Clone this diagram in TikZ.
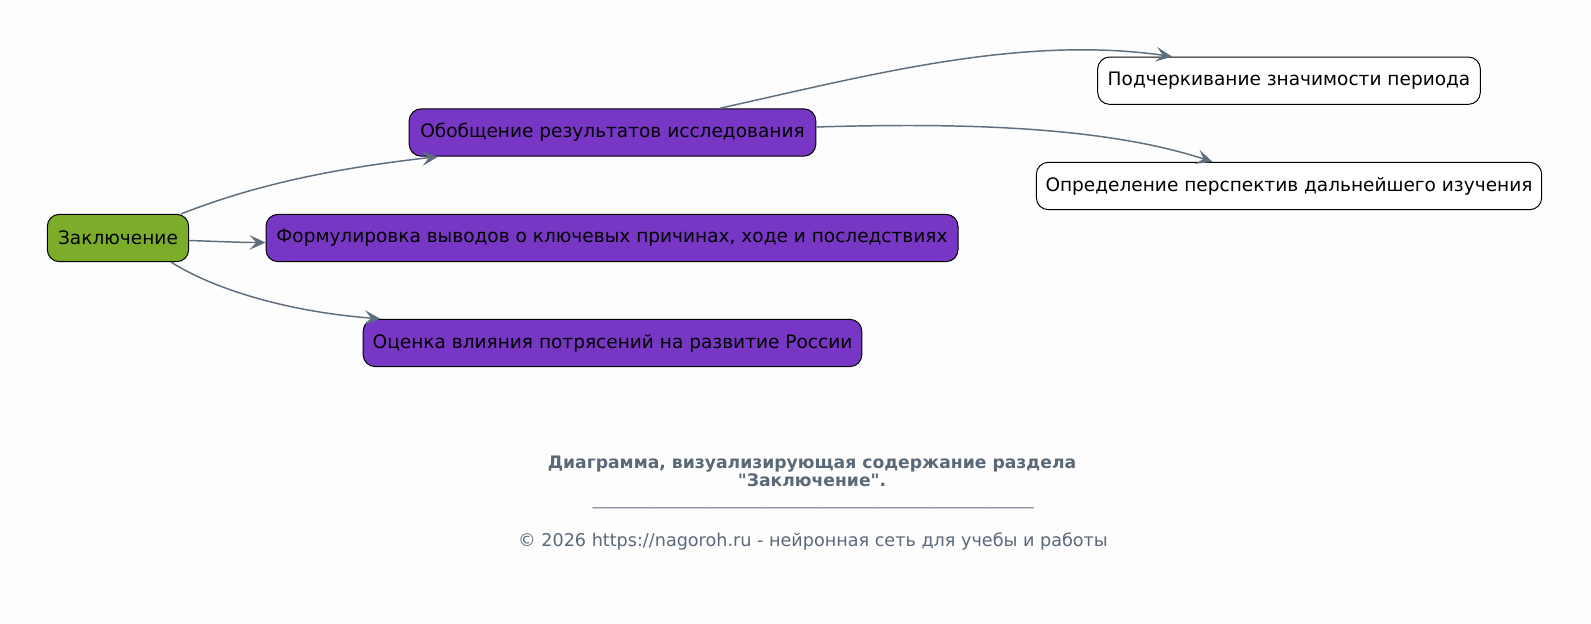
\documentclass[tikz,border=0pt]{standalone}
\usepackage{fontspec}
\setmainfont{DejaVu Sans}
\usetikzlibrary{arrows.meta}
\definecolor{bgpaper}{HTML}{FDFDFD}
\definecolor{rootgreen}{HTML}{7BAD2B}
\definecolor{topicviolet}{HTML}{7836C4}
\definecolor{edgeslate}{HTML}{5E6E7E}
\definecolor{captiongrey}{HTML}{5B6878}
\newcommand{\usline}{\_\_\_\_\_\_\_\_\_\_}

\begin{document}
\begin{tikzpicture}[>={Stealth[length=12pt,width=11pt,inset=5pt]}, x=0.75pt, y=-0.75pt]

\tikzset{
  root/.style={
    draw=black,
    line width=0.75pt,
    fill=rootgreen,
    rounded corners=9pt,
    inner sep=0pt,
    minimum height=35.5pt,
    font=\fontsize{13.9}{16}\selectfont
  },
  topic/.style={
    draw=black,
    line width=0.75pt,
    fill=topicviolet,
    rounded corners=9pt,
    inner sep=0pt,
    minimum height=35.5pt,
    font=\fontsize{13.9}{16}\selectfont
  },
  leaf/.style={
    draw=black,
    line width=0.75pt,
    fill=white,
    rounded corners=9pt,
    inner sep=0pt,
    minimum height=35.5pt,
    font=\fontsize{13.9}{16}\selectfont
  },
  link/.style={
    ->,
    draw=edgeslate,
    line width=1.1pt
  },
  caption/.style={
    text=captiongrey,
    align=center,
    inner sep=0pt
  }
}

% background and page size
\fill[bgpaper] (0,0) rectangle (1591,624);
\useasboundingbox (0,0) rectangle (1591,624);

% main nodes
\node[root, minimum width=106pt] (concl) at (118,238) {Заключение};

\node[topic, minimum width=305pt] (summary) at (612.5,132.5) {Обобщение результатов исследования};
\node[topic, minimum width=519pt] (findings) at (612,238) {Формулировка выводов о ключевых причинах, ходе и последствиях};
\node[topic, minimum width=374pt] (impact) at (612.5,343) {Оценка влияния потрясений на развитие России};

\node[leaf, minimum width=287pt] (period) at (1289,80.7) {Подчеркивание значимости периода};
\node[leaf, minimum width=379pt] (outlook) at (1289,186) {Определение перспектив дальнейшего изучения};

% connectors
\draw[link] (concl.north east) ++(-8,0) .. controls (230,195) and (300,172) .. (summary.south west -| 438,0);
\draw[link] (concl.east) ++(0,2.5) .. controls (220,241.5) and (240,242.5) .. ([yshift=-3.4pt]findings.west);
\draw[link] (concl.south east) ++(-18,0) .. controls (215,290) and (290,312) .. (impact.north west -| 380.5,0);

\draw[link] (summary.north) ++(107,0) .. controls (870,75) and (1020,35) .. (period.north west -| 1172,0);
\draw[link] (summary.east) ++(0,-5.5) .. controls (950,123) and (1100,125) .. (outlook.north west -| 1212.5,0);

% caption
\node[caption, font=\bfseries\fontsize{12.9}{12.3}\selectfont] (title) at (812,471) {Диаграмма, визуализирующая содержание раздела\\\textquotedbl Заключение\textquotedbl.};
\node[caption, font=\fontsize{10.5}{12}\selectfont] (rule) at (813,507) {\usline\usline\usline\usline\usline\usline\_\_\_};
\node[caption, font=\fontsize{13.2}{14}\selectfont] (credit) at (813,541) {© 2026 https://nagoroh.ru - нейронная сеть для учебы и работы};

\end{tikzpicture}
\end{document}
